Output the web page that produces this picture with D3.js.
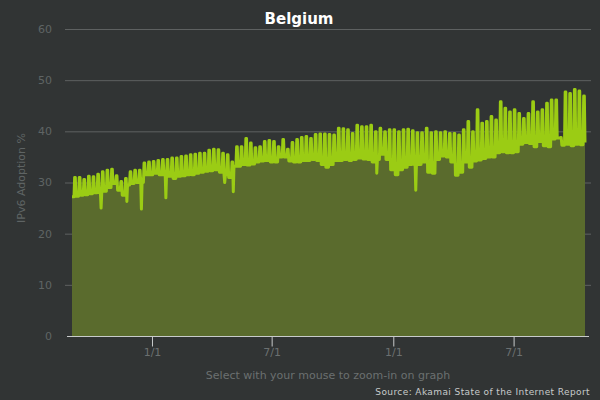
<!DOCTYPE html>
<html>
<head>
<meta charset="utf-8">
<script src="https://cdn.jsdelivr.net/npm/d3@7"></script>
<style>
  body { margin: 0; background: #313434; }
  svg { display: block; font-family: "DejaVu Sans", sans-serif; }
</style>
</head>
<body>
<div id="chart"></div>
<script>
// DATA
////////////////////////////
// weekly readings: weekday level and weekend spike (IPv6 %)
// week 0 starts Mon 2014-09-01, data runs 2014-09-02 .. 2016-10-17
var weekdayLow = [
  27.2, 27.3, 27.5, 27.6, 27.8, 28.0, 28.0, 28.3, 29.0, 29.8,
  28.5, 27.5, 29.5, 29.8, 30.0, 30.0, 31.5, 31.5, 31.8, 31.5,
  31.5, 31.2, 30.8, 31.2, 31.3, 31.5, 31.5, 31.8, 32.0, 32.2,
  32.3, 32.5, 32.0, 31.5, 31.0, 33.2, 33.2, 33.5, 33.4, 33.6,
  34.0, 34.2, 34.3, 34.0, 34.0, 35.0, 35.0, 34.2, 34.0, 34.0,
  34.3, 34.3, 34.5, 34.3, 33.5, 33.0, 33.5, 34.3, 34.3, 34.5,
  34.3, 34.5, 34.8, 34.6, 34.5, 34.0, 34.5, 35.5, 34.5, 32.5,
  31.5, 32.5, 33.0, 33.5, 33.5, 33.5, 34.0, 32.0, 31.8, 34.5,
  35.2, 35.0, 34.0, 31.4, 32.0, 34.0, 33.0, 34.2, 34.4, 34.7,
  35.0, 35.0, 35.8, 36.0, 35.8, 35.8, 36.0, 37.5, 37.8, 37.6,
  37.0, 38.0, 37.2, 37.0, 38.5, 38.7, 37.3, 37.5, 37.2, 37.5, 37.4
];
var weekendHigh = [
  31.0, 31.0, 30.6, 31.2, 31.1, 31.6, 32.1, 32.4, 32.6, 31.3,
  30.2, 30.8, 32.1, 32.4, 32.4, 33.8, 34.0, 34.1, 34.3, 34.5,
  34.5, 34.8, 34.8, 35.1, 35.2, 35.4, 35.5, 35.7, 35.7, 36.3,
  36.5, 36.4, 35.7, 35.4, 34.0, 37.0, 37.0, 38.6, 37.7, 36.8,
  37.0, 38.0, 38.2, 38.0, 37.0, 38.4, 36.5, 37.8, 38.4, 38.8,
  39.0, 38.6, 39.4, 39.5, 39.5, 39.4, 39.3, 40.6, 40.5, 40.3,
  39.6, 41.2, 40.9, 40.9, 41.2, 39.9, 40.6, 39.9, 40.3, 40.3,
  39.9, 40.3, 40.4, 40.1, 39.7, 39.7, 40.6, 39.7, 39.9, 39.7,
  39.9, 39.6, 39.6, 39.3, 40.3, 41.9, 39.9, 44.2, 41.6, 41.9,
  42.9, 42.2, 45.8, 44.5, 43.8, 44.2, 43.5, 42.5, 43.5, 45.8,
  43.8, 44.2, 45.5, 46.1, 46.1, 38.8, 47.7, 47.4, 48.2, 47.9, 46.9
];
// single-day drops: week index, day of week (0 = Mon), value
var dipWeek  = [6, 12, 15, 20, 33, 35, 66, 74];
var dipDay   = [3, 0, 1, 3, 1, 0, 0, 3];
var dipValue = [25.0, 26.3, 24.8, 27.0, 30.0, 28.2, 31.8, 28.5];
var lastValue = 37.8;   // Mon 2016-10-17

var yTicks = [0, 10, 20, 30, 40, 50, 60];
var xTickDates = [new Date(2015, 0, 1), new Date(2015, 6, 1), new Date(2016, 0, 1), new Date(2016, 6, 1)];

var weekStart = new Date(2014, 8, 1),
    firstDay = new Date(2014, 8, 2),
    lastDay = new Date(2016, 9, 17);

// build daily points from the weekly readings
var data = [];
weekdayLow.forEach(function(low, w) {
  for (var d = 0; d < 7; d++) {
    var date = d3.timeDay.offset(weekStart, w * 7 + d);
    if (date < firstDay) continue;
    var v = d < 5 ? low : weekendHigh[w];
    dipWeek.forEach(function(dw, k) { if (dw == w && dipDay[k] == d) v = dipValue[k]; });
    data.push({ date: date, value: v });
  }
});
data.push({ date: lastDay, value: lastValue });

// SETUP
////////////////////////////
var width = 600, height = 400;

var svg = d3.select("#chart").append("svg")
    .attr("width", width)
    .attr("height", height);

svg.append("rect")
    .attr("width", width)
    .attr("height", height)
    .attr("fill", "#313434");

var x = d3.scaleTime()
    .domain([firstDay, lastDay])
    .range([72, 585]);

var y = d3.scaleLinear()
    .domain([0, 60])
    .range([336, 29]);

// grid lines + y labels
svg.selectAll("line.grid")
  .data(yTicks.filter(function(t) { return t > 0; }))
  .enter().append("line")
    .attr("class", "grid")
    .attr("x1", 65).attr("x2", 591)
    .attr("y1", function(d) { return y(d) + 0.5; })
    .attr("y2", function(d) { return y(d) + 0.5; })
    .attr("stroke", "#5e6161")
    .attr("stroke-width", 1);

svg.selectAll("text.ylab")
  .data(yTicks)
  .enter().append("text")
    .attr("class", "ylab")
    .attr("x", 52)
    .attr("y", function(d) { return y(d); })
    .attr("dy", "0.35em")
    .attr("text-anchor", "end")
    .attr("fill", "#5f6464")
    .style("font-size", "11px")
    .text(function(d) { return d; });

// area + line
var area = d3.area()
    .x(function(d) { return x(d.date); })
    .y0(y(0))
    .y1(function(d) { return y(d.value); });

var line = d3.line()
    .x(function(d) { return x(d.date); })
    .y(function(d) { return y(d.value); });

svg.append("path")
    .datum(data)
    .attr("d", area)
    .attr("fill", "#5a6b2d");

svg.append("path")
    .datum(data)
    .attr("d", line)
    .attr("fill", "none")
    .attr("stroke", "#9bcc14")
    .attr("stroke-width", 3)
    .attr("stroke-linejoin", "round");

// x axis
var xAxis = d3.axisBottom(x)
    .tickValues(xTickDates)
    .tickFormat(d3.timeFormat("%-m/%-d"))
    .tickSize(10)
    .tickSizeOuter(0);

var gx = svg.append("g")
    .attr("transform", "translate(0," + 336.5 + ")")
    .call(xAxis);
gx.select(".domain").remove();
gx.insert("line", ":first-child")
    .attr("x1", 67).attr("x2", 589)
    .attr("stroke", "#c8cbcb");
gx.selectAll(".tick line").attr("stroke", "#c8cbcb");
gx.selectAll(".tick text")
    .attr("fill", "#6b7070")
    .attr("y", 12)
    .style("font-size", "11px")
    .style("font-family", "DejaVu Sans");

// texts
svg.append("text")
    .attr("x", 299).attr("y", 24)
    .attr("text-anchor", "middle")
    .attr("fill", "#ffffff")
    .style("font-size", "15px")
    .style("font-weight", "bold")
    .text("Belgium");

svg.append("text")
    .attr("transform", "translate(25,178) rotate(-90)")
    .attr("text-anchor", "middle")
    .attr("fill", "#5f6464")
    .style("font-size", "11px")
    .text("IPv6 Adoption %");

svg.append("text")
    .attr("x", 328).attr("y", 379)
    .attr("text-anchor", "middle")
    .attr("fill", "#6b7070")
    .style("font-size", "11px")
    .text("Select with your mouse to zoom-in on graph");

svg.append("text")
    .attr("x", 590).attr("y", 395)
    .attr("text-anchor", "end")
    .attr("fill", "#c8cbcb")
    .style("font-size", "9px")
    .style("letter-spacing", "0.4px")
    .text("Source: Akamai State of the Internet Report");
</script>
</body>
</html>
